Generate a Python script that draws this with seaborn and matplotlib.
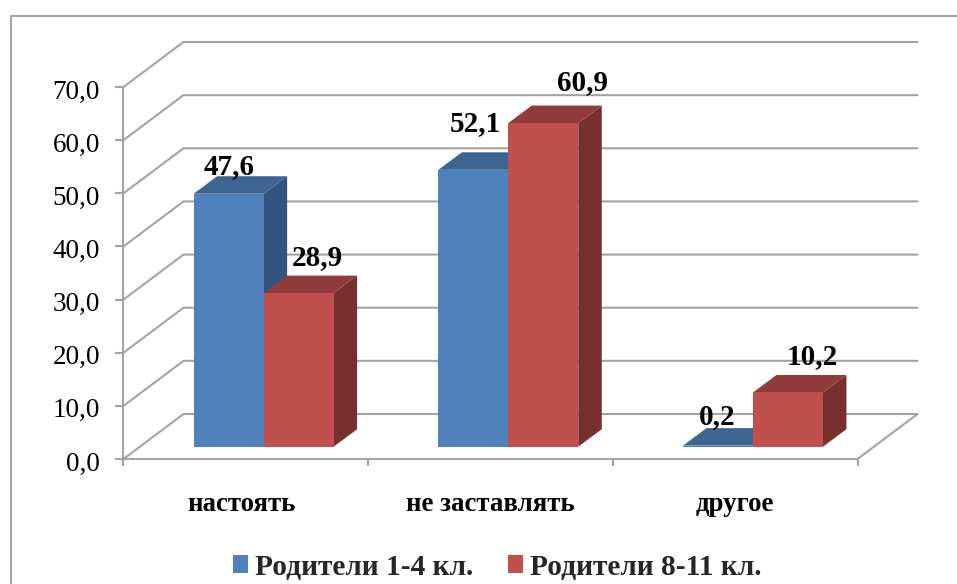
import pandas as pd
import matplotlib
matplotlib.use("Agg")
import matplotlib.pyplot as plt
from matplotlib.lines import Line2D
from matplotlib.patches import Polygon, Patch
from matplotlib.transforms import Affine2D
import seaborn as sns

categories = ["настоять", "не заставлять", "другое"]
series_names = ["Родители 1-4 кл.", "Родители 8-11 кл."]
values_1_4 = [47.6, 52.1, 0.2]
values_8_11 = [28.9, 60.9, 10.2]
y_ticks = [0, 10, 20, 30, 40, 50, 60, 70]

W, H = 957, 584
# plot box in pixels of the picture
LEFT, RIGHT, TOP, BOTTOM = 123.5, 857.5, 87, 459

# colours for front / top / side of the fake 3d bars
front = ["#4F81BD", "#C0504D"]
top_col = ["#3D6592", "#8F3C3A"]
side_col = ["#32547E", "#78302F"]
grey = "#A3A3A3"

sns.set_theme(style="white")
plt.rcParams["font.family"] = ["Liberation Serif", "DejaVu Serif"]

df = pd.DataFrame({
    "cat": categories * 2,
    "val": values_1_4 + values_8_11,
    "group": [series_names[0]] * 3 + [series_names[1]] * 3,
})

fig = plt.figure(figsize=(W / 100, H / 100), dpi=100)
ax = fig.add_axes([LEFT / W, 1 - BOTTOM / H, (RIGHT - LEFT) / W, (BOTTOM - TOP) / H])
ax.patch.set_alpha(0)

sns.barplot(data=df, x="cat", y="val", hue="group", palette=front, width=0.572,
            gap=0, saturation=1, ax=ax, legend=False, zorder=3)
ax.set_xlim(-0.5, 2.5)
ax.set_ylim(0, 70)
ax.set_xlabel("")
ax.set_ylabel("")

# px -> data scale
sx = 3 / (RIGHT - LEFT)
sy = 70 / (BOTTOM - TOP)

# back wall and floor lines
wall_dx, wall_dy = 60 * sx, 45 * sy
for v in y_ticks:
    ax.plot([-0.5, -0.5 + wall_dx, 2.5 + wall_dx], [v, v + wall_dy, v + wall_dy],
            color=grey, lw=1.5, clip_on=False, zorder=1)
ax.plot([2.5, 2.5 + wall_dx], [0, wall_dy], color=grey, lw=1.5, clip_on=False, zorder=1)

# move bars onto the floor and give them depth
shift_x = 17.8 * sx
lift = 12.3 * sy
bar_dx, bar_dy = 23.5 * sx, 17.5 * sy
bars = [p for p in ax.patches if p.get_height() > 0]
for i, p in enumerate(bars):
    g = i // 3
    z = 3 + g
    p.set_x(p.get_x() + shift_x)
    p.set_y(lift)
    p.set_zorder(z + 0.2)
    p.set_clip_on(False)
    p.set_linewidth(0)
    x0, x1 = p.get_x(), p.get_x() + p.get_width()
    y0, y1 = lift, lift + p.get_height()
    ax.add_patch(Polygon([(x0, y1), (x1, y1), (x1 + bar_dx, y1 + bar_dy), (x0 + bar_dx, y1 + bar_dy)],
                         fc=top_col[g], ec="none", clip_on=False, zorder=z + 0.1))
    ax.add_patch(Polygon([(x1, y0), (x1 + bar_dx, y0 + bar_dy), (x1 + bar_dx, y1 + bar_dy), (x1, y1)],
                         fc=side_col[g], ec="none", clip_on=False, zorder=z))

# data labels, hand placed like in the original (all blue bars first, then red)
label_offsets = [(0, 20), (2, 39), (-1, 22), (19, 28), (39, 33), (24, 28)]
for p, off in zip(bars, label_offsets):
    txt = f"{p.get_height():.1f}".replace(".", ",")
    ax.annotate(txt, (p.get_x() + p.get_width() / 2, p.get_y() + p.get_height()),
                xytext=off, textcoords="offset pixels", ha="center", va="baseline",
                fontsize=21, fontweight="bold", color="black", zorder=10, annotation_clip=False)

# axes
for s in ["top", "right"]:
    ax.spines[s].set_visible(False)
for s in ["left", "bottom"]:
    ax.spines[s].set_color(grey)
    ax.spines[s].set_linewidth(1.5)
    ax.spines[s].set_zorder(2)
ax.set_yticks(y_ticks)
ax.set_yticklabels([f"{v:.1f}".replace(".", ",") for v in y_ticks], fontsize=19.5, color="black")
ax.tick_params(axis="y", left=True, length=5.5, width=1.5, color=grey, pad=11.5)
ax.set_xticks(range(3))
ax.set_xticklabels(categories, fontsize=19.4, fontweight="bold", color="black")
ax.set_xticks([-0.5, 0.5, 1.5, 2.5], minor=True)
ax.tick_params(axis="x", which="major", bottom=False, length=0, pad=23.5)
ax.tick_params(axis="x", which="minor", bottom=True, length=5, width=1.5, color=grey)

# nudge tick texts a little, the original ones sit slightly off the ticks
for lab in ax.get_yticklabels():
    lab.set_transform(lab.get_transform() + Affine2D().translate(0, -2))
first = ax.get_xticklabels()[0]
first.set_transform(first.get_transform() + Affine2D().translate(-4, 0))

# outer frame of the chart
fig.add_artist(Line2D([10.5 / W, 10.5 / W, 1], [0, 1 - 15.5 / H, 1 - 15.5 / H], color=grey, lw=1.5))

handles = [Patch(fc=front[0], ec="none"), Patch(fc=front[1], ec="none")]
fig.legend(handles, series_names, loc="center", bbox_to_anchor=(497 / W, 1 - 567 / H), ncol=2,
           frameon=False, prop={"size": 21.2, "weight": "bold"}, handlelength=0.52, handleheight=0.52,
           handletextpad=0.24, columnspacing=1.17, borderpad=0, borderaxespad=0)

fig.savefig("out.png", dpi=100)
